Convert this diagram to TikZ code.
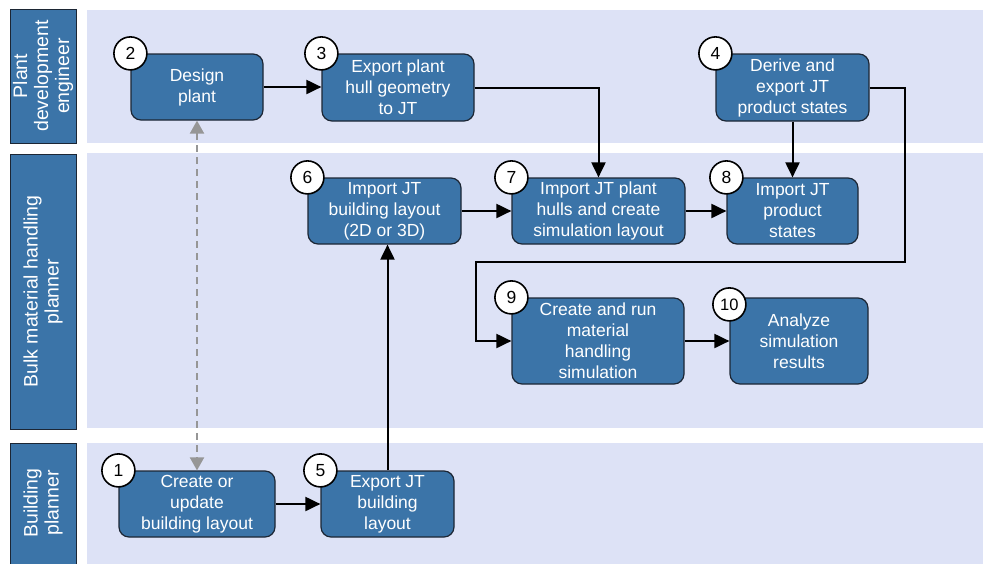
\documentclass[tikz,border=0pt]{standalone}
\usepackage{fontspec}
\setmainfont{Liberation Sans}
\usetikzlibrary{arrows.meta}
\definecolor{laneblue}{RGB}{221,226,246}
\definecolor{stepblue}{RGB}{59,116,168}
\definecolor{edgedark}{RGB}{28,38,52}
\definecolor{linkgray}{RGB}{150,150,150}
\begin{document}
\begin{tikzpicture}[x=1pt,y=-1pt,
  lanebg/.style={fill=laneblue, draw=none},
  lanehead/.style={fill=stepblue, draw=edgedark, line width=0.9pt},
  lanetext/.style={text=white, align=center, rotate=90, font=\fontsize{19.5}{21}\selectfont},
  stepbox/.style={rectangle, rounded corners=10pt, fill=stepblue, draw=edgedark,
    line width=1.2pt, text=white, align=center, inner sep=0pt,
    font=\fontsize{17.5}{21}\selectfont},
  numcirc/.style={circle, fill=white, draw=black, line width=1.6pt,
    minimum size=33pt, inner sep=0pt, font=\fontsize{17.5}{17.5}\selectfont},
  flow/.style={draw=black, line width=2pt, -{Triangle[length=15pt,width=14pt]}},
  link/.style={draw=linkgray, line width=2pt, dash pattern=on 7pt off 5pt,
    {Triangle[length=13pt,width=14pt]}-{Triangle[length=13pt,width=14pt]}}
 ]
\useasboundingbox (0,0) rectangle (983,563);

% swim lane backgrounds
\fill[lanebg] (87,10) rectangle (983,143);
\fill[lanebg] (87,153) rectangle (983,428);
\fill[lanebg] (87,443) rectangle (983,566);

% swim lane headers
\draw[lanehead] (10,9) rectangle (76,143);
\draw[lanehead] (10,154) rectangle (76,429);
\draw[lanehead] (10,443) rectangle (76,570);
\node[lanetext] (h1) at (43,76) {Plant\\development\\engineer};
\node[lanetext] (h2) at (43,291.5) {Bulk material handling\\planner};
\node[lanetext] (h3) at (43,503) {Building\\planner};

% process steps
\node[stepbox, minimum width=132pt, minimum height=66pt] (b2) at (197,87) {Design\\plant};
\node[stepbox, minimum width=152pt, minimum height=67pt] (b3) at (398,87.5) {Export plant\\hull geometry\\to JT};
\node[stepbox, minimum width=153pt, minimum height=67pt] (b4) at (792.5,87.5) {Derive and\\export JT\\product states};
\node[stepbox, minimum width=153pt, minimum height=66pt] (b6) at (384.5,211) {Import JT\\building layout\\(2D or 3D)};
\node[stepbox, minimum width=173pt, minimum height=66pt] (b7) at (598.5,211) {Import JT plant\\hulls and create\\simulation layout};
\node[stepbox, minimum width=131pt, minimum height=66pt] (b8) at (792.5,211) {Import JT\\product\\states};
\node[stepbox, minimum width=172pt, minimum height=86pt] (b9) at (598,341) {Create and run\\material\\handling\\simulation};
\node[stepbox, minimum width=138pt, minimum height=86pt] (b10) at (799,341) {Analyze\\simulation\\results};
\node[stepbox, minimum width=156pt, minimum height=66pt] (b1) at (197,504) {Create or\\update\\building layout};
\node[stepbox, minimum width=133pt, minimum height=66pt] (b5) at (387.5,504) {Export JT\\building\\layout};

% step numbers
\node[numcirc] (n1) at (b1.north west) {1};
\node[numcirc] (n2) at (b2.north west) {2};
\node[numcirc] (n3) at (b3.north west) {3};
\node[numcirc] (n4) at (b4.north west) {4};
\node[numcirc] (n5) at (b5.north west) {5};
\node[numcirc] (n6) at (b6.north west) {6};
\node[numcirc] (n7) at (b7.north west) {7};
\node[numcirc] (n8) at (b8.north west) {8};
\node[numcirc] (n9) at (b9.north west) {9};
\node[numcirc, yshift=-7pt, font=\fontsize{16.5}{16.5}\selectfont] (n10) at (b10.north west) {10};

% connectors
\coordinate (turnA) at (905,262);
\coordinate (turnB) at (476,262);
\draw[flow] (b2.east) -- (b2.east -| b3.west);
\draw[flow] (b3.east) -| (b7.north);
\draw[flow] (b4.south) -- (b8.north);
\draw[flow] (b4.east) -| (turnA) -- (turnB) |- (b9.west);
\draw[flow] (b6.east) -- (b7.west);
\draw[flow] (b7.east) -- (b8.west);
\draw[flow] (b9.east) -- (b10.west);
\draw[flow] (b1.east) -- (b5.west);
\draw[flow] (b5.north) -- (b5.north |- b6.south);
\draw[link] (b2.south) -- (b1.north);
\end{tikzpicture}
\end{document}
